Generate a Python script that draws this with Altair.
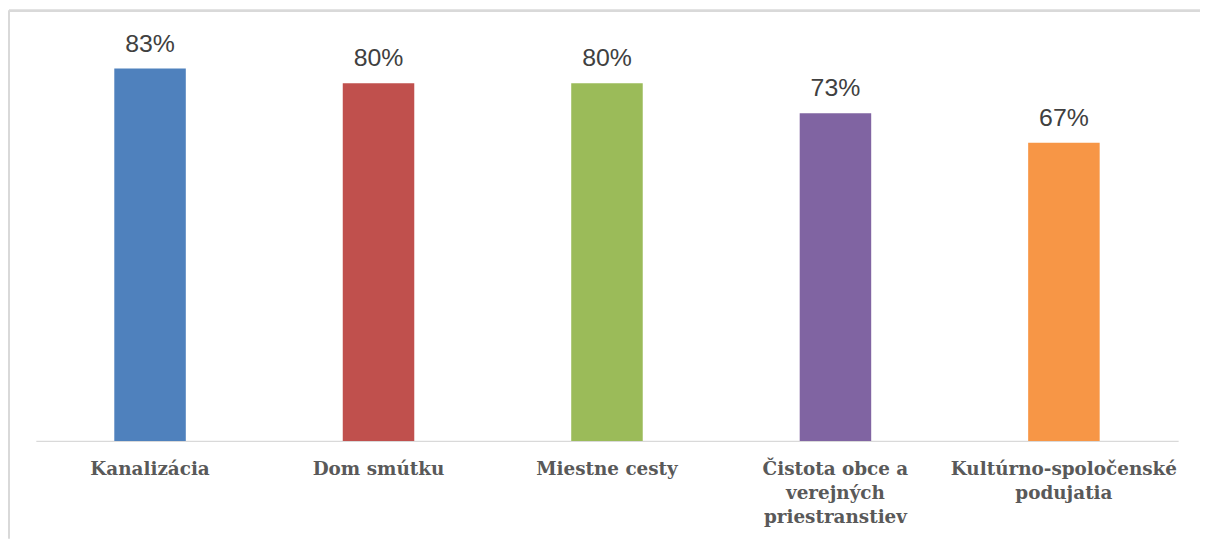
import altair as alt
import pandas as pd

categories = [
    "Kanalizácia",
    "Dom smútku",
    "Miestne cesty",
    "Čistota obce a\nverejných\npriestranstiev",
    "Kultúrno-spoločenské\npodujatia",
]
values = [83.3, 80.0, 80.0, 73.3, 66.7]
colors = ["#4F81BD", "#C0504D", "#9BBB59", "#8064A2", "#F79646"]

df = pd.DataFrame({"cat": categories, "val": values, "color": colors})
df["label"] = [f"{round(v):.0f}%" for v in values]

x = alt.X(
    "cat:N",
    sort=categories,
    scale=alt.Scale(paddingInner=0.687, paddingOuter=0.3435),
    axis=alt.Axis(
        title=None,
        labelAngle=0,
        ticks=False,
        tickSize=0,
        labelPadding=19,
        labelExpr="split(datum.value, '\\n')",
        labelFont="DejaVu Serif",
        labelFontWeight="bold",
        labelFontSize=18.5,
        labelColor="#595959",
        labelLineHeight=24,
        labelLimit=0,
        domainColor="#d9d9d9",
        domainWidth=1.5,
        grid=False,
    ),
)
y = alt.Y("val:Q", scale=alt.Scale(domain=[0, 90]), axis=None)

bars = alt.Chart(df).mark_bar().encode(
    x=x, y=y, color=alt.Color("color:N", scale=None)
)
texts = alt.Chart(df).mark_text(
    baseline="alphabetic", dy=-17, font="Liberation Sans", fontSize=25, color="#404040"
).encode(x=x, y=y, text="label:N")

border_left = alt.Chart(df).mark_rule(color="#d9d9d9", strokeWidth=2).encode(
    x=alt.value(-27), y=alt.value(-28), y2=alt.value(503)
)
border_top = alt.Chart(df).mark_rule(color="#d9d9d9", strokeWidth=2).encode(
    x=alt.value(-27), x2=alt.value(1172), y=alt.value(-28)
)

chart = (
    alt.layer(bars, texts, border_left, border_top)
    .properties(
        width=1150,
        height=405,
        autosize=alt.AutoSizeParams(type="none"),
        padding={"left": 28, "top": 29, "right": 22, "bottom": 98},
    )
    .configure(background="white")
    .configure_view(strokeWidth=0, stroke="transparent")
)

chart.save("out.html", embed_options={"renderer": "svg", "actions": False})
